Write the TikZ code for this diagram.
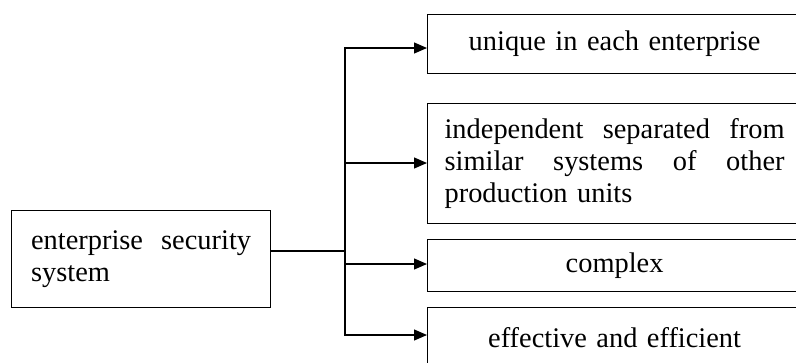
\documentclass[tikz,border=0pt]{standalone}
\usepackage{fontspec}
\setmainfont{Liberation Serif}
\usetikzlibrary{arrows.meta}
\newcommand{\spreadline}[2]{\leavevmode\hbox to #1{#2}}
\begin{document}
\begin{tikzpicture}[x=1pt,y=-1pt,
  box/.style={draw, line width=1.2pt, anchor=north west, inner sep=0pt,
    font=\fontsize{28.4}{32}\selectfont},
  cbox/.style={box, minimum width=374pt, text width=340pt, align=center},
  link/.style={line width=1.2pt},
  arr/.style={link, -{Triangle[length=13pt,width=11pt]}}]
\path[use as bounding box] (0,0) rectangle (796,362);
\clip (0,0) rectangle (796,362);
\fill[white] (0,0) rectangle (796,362);
% source box
\node[box, minimum width=259pt, minimum height=97pt, text width=220pt, align=left]
  (src) at (11,210) {\spreadline{220pt}{enterprise\hfill security}\\system};
% target boxes
\node[cbox, minimum height=59pt] (b1) at (427,14) {unique in each enterprise};
\node[box, minimum width=374pt, minimum height=120pt, text width=340pt, align=left]
  (b2) at (427,103) {\spreadline{340pt}{independent\hfill separated\hfill from}\\
  \spreadline{340pt}{similar\hfill systems\hfill of\hfill other}\\production units};
\node[cbox, minimum height=52pt] (b3) at (427,239) {complex};
\node[cbox, minimum height=60pt] (b4) at (427,307) {effective and efficient};
% junctions on the trunk
\coordinate (jm) at (345,251);
\coordinate (jt) at (345,48);
\coordinate (j2) at (345,163);
\coordinate (j3) at (345,264);
\coordinate (jb) at (345,335);
% connectors
\draw[link] (jm -| src.east) -- (jm);
\draw[arr] (jm) -- (jt) -- (jt -| b1.west);
\draw[arr] (jm) -- (jb) -- (jb -| b4.west);
\draw[arr] (j2) -- (j2 -| b2.west);
\draw[arr] (j3) -- (j3 -| b3.west);
\end{tikzpicture}
\end{document}
